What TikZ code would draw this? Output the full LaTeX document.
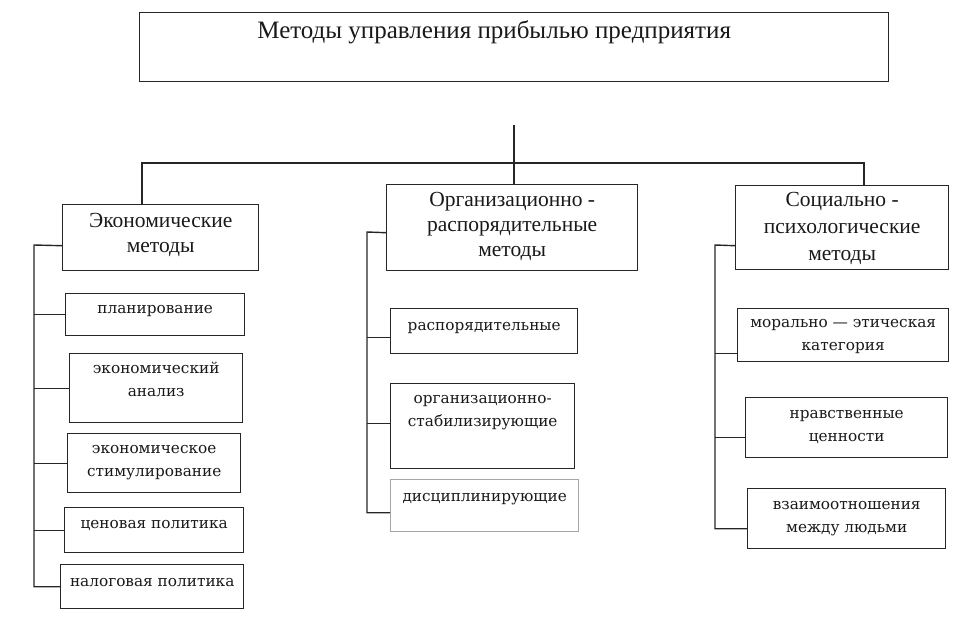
\documentclass[tikz,border=0pt]{standalone}
\usepackage{fontspec}
\setmainfont{Liberation Serif}
\newfontfamily\itemfont{DejaVu Serif}
\usetikzlibrary{calc}

\tikzset{
  box/.style={draw=black!85, line width=1.4pt, text=black!90, align=center,
    inner sep=0pt, anchor=north west},
  head/.style={box, font=\fontsize{21.5}{25}\selectfont},
  item/.style={box, font=\itemfont\fontsize{15.3}{23}\selectfont},
  link/.style={draw=black!85, line width=1.4pt},
}

\begin{document}
\begin{tikzpicture}[x=1pt, y=-1pt]
			%%%%% FRAME %%%%%
			\useasboundingbox (0,0) rectangle (956,622);
			
			\node[box, font=\fontsize{25}{28}\selectfont, minimum width=749pt, minimum height=69pt, text depth=36pt] (title) at (139,12) {Методы управления прибылью предприятия\hspace*{40pt}};
			
			%%%%% HEADS %%%%%
			\node[head, minimum width=196pt, minimum height=66pt, text depth=9pt] (econ) at (62,204) {Экономические\\методы};
			\node[head, minimum width=251pt, minimum height=86pt, text depth=6pt] (org) at (386,184) {Организационно -\\распорядительные\\методы};
			\node[head, font=\fontsize{21.5}{27}\selectfont, minimum width=213pt, minimum height=84pt, text depth=3pt] (soc) at (735,185) {Социально -\\психологические\\методы};
			
			%%%%% LEFT COLUMN %%%%%
			\node[item, minimum width=179pt, minimum height=42pt, text depth=10pt] (plan) at (65,293) {планирование};
			\node[item, minimum width=173pt, minimum height=69pt, text depth=18pt] (anal) at (69,353) {экономический\\анализ};
			\node[item, minimum width=173pt, minimum height=59pt, text depth=5pt] (stim) at (67,433) {экономическое\\стимулирование};
			\node[item, minimum width=179pt, minimum height=45pt, text depth=11pt] (price) at (64,507) {ценовая политика};
			\node[item, minimum width=183pt, minimum height=44pt, text depth=8pt] (tax) at (60,564) {налоговая политика};
			
			%%%%% MIDDLE COLUMN %%%%%
			\node[item, minimum width=187pt, minimum height=45pt, text depth=9pt] (rasp) at (390,308) {распорядительные};
			\node[item, minimum width=184pt, minimum height=85pt, text depth=30pt] (stab) at (390,383) {организационно-\\стабилизирующие};
			\node[item, draw=black!35, minimum width=188pt, minimum height=52pt, text depth=16pt] (disc) at (390,479) {дисциплинирующие};
			
			%%%%% RIGHT COLUMN %%%%%
			\node[item, minimum width=211pt, minimum height=53pt, text depth=0pt] (moral) at (737,308) {морально — этическая\\категория};
			\node[item, minimum width=202pt, minimum height=60pt, text depth=3pt] (nrav) at (745,397) {нравственные\\ценности};
			\node[item, minimum width=198pt, minimum height=60pt, text depth=4pt] (vzaim) at (747,488) {взаимоотношения\\между людьми};
			
			%%%%% LINKS %%%%%
			\coordinate (stem) at (514,125);
			\coordinate (busL) at (142,163);
			\coordinate (busR) at (864,163);
			\draw[link] (stem) -- (stem |- org.north);
			\draw[link] (busL |- econ.north) -- (busL) -- (busR) -- (busR |- soc.north);
			
			\coordinate (leftbus) at (34,245);
			\draw[link] ([yshift=-8pt]econ.west) -- (leftbus) |- (tax.west);
			\draw[link] (leftbus |- plan.west) -- (plan.west);
			\draw[link] (leftbus |- anal.west) -- (anal.west);
			\draw[link] (leftbus |- stim.west) -- (stim.west);
			\draw[link] (leftbus |- price.west) -- (price.west);
			
			\coordinate (midbus) at (367,232);
			\draw[link] ([yshift=-5pt]org.west) -- (midbus) |- ([yshift=-7pt]disc.west);
			\draw[link] (midbus |- rasp.west) ++(0,-6pt) -- ([yshift=-6pt]rasp.west);
			\draw[link] (midbus |- stab.west) ++(0,3pt) -- ([yshift=3pt]stab.west);
			
			\coordinate (rightbus) at (715,245);
			\draw[link] ([yshift=-18pt]soc.west) -- (rightbus) |- ([yshift=-10pt]vzaim.west);
			\draw[link] (rightbus |- moral.west) ++(0,-18pt) -- ([yshift=-18pt]moral.west);
			\draw[link] (rightbus |- nrav.west) ++(0,-10pt) -- ([yshift=-10pt]nrav.west);
			
			%%%%% END %%%%%
\end{tikzpicture}
\end{document}
